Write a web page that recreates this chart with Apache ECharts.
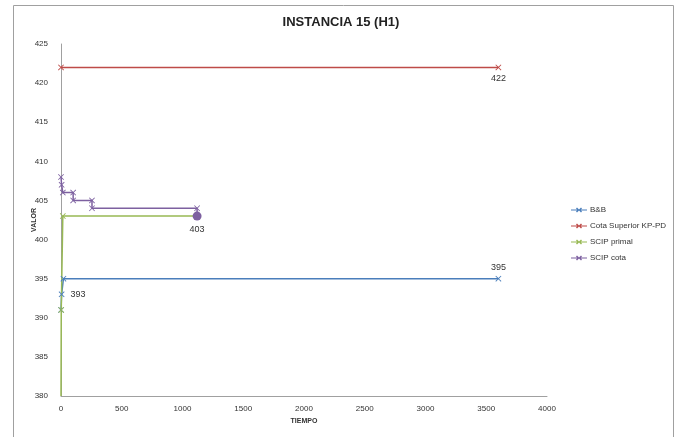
<!DOCTYPE html>
<html><head><meta charset="utf-8">
<script src="https://cdn.jsdelivr.net/npm/echarts@6/dist/echarts.min.js"></script>
<style>html,body{margin:0;padding:0;background:#fff}#c{width:680px;height:437px}</style>
</head><body><div id="c"></div>
<script>
const title = 'INSTANCIA 15 (H1)';
const seriesNames = ['B&B', 'Cota Superior KP-PD', 'SCIP primal', 'SCIP cota'];
const bbData = [[0,391],[5,393],[20,395],[3600,395]];
const cotaKPData = [[0,422],[3600,422]];
const scipPrimalData = [[0,380],[2,391],[15,403],[1120,403]];
const scipCotaData = [[0,408],[5,407],[15,406],[100,406],[100,405],[255,405],[255,404],[1120,404],[1120,403]];
const xTicks = [0,500,1000,1500,2000,2500,3000,3500,4000];
const yTicks = [380,385,390,395,400,405,410,415,420,425];

const colors = ['#4A7EBB','#BE4B48','#98B954','#7D60A0'];
const X = 'path://M1,0L5,4L9,0L10,1L6,5L10,9L9,10L5,6L1,10L0,9L4,5L0,1Z';
const LX = 'path://M0,4.4L6,4.4L5,3.4L6,2.4L8,4.4L10,2.4L11,3.4L10,4.4L16,4.4L16,5.6L10,5.6L11,6.6L10,7.6L8,5.6L6,7.6L5,6.6L6,5.6L0,5.6Z';
const lbl = {show:true, fontSize:9, color:'#333', fontFamily:'Liberation Sans'};

function mk(data, opts) {
  return data.map((p, i) => {
    const o = {value: p};
    if (opts[i]) Object.assign(o, opts[i]);
    return o;
  });
}

const chart = echarts.init(document.getElementById('c'), null, {renderer:'canvas'});
chart.setOption({
  animation:false,
  title:{text:title, left:336, textAlign:'center', top:11,
    textStyle:{fontSize:13, fontWeight:'bold', color:'#222', fontFamily:'Liberation Sans'}},
  graphic:[{type:'rect', shape:{x:13.5,y:5.5,width:660,height:450}, style:{fill:'none', stroke:'#a0a0a0', lineWidth:1}, silent:true}],
  grid:{left:61, right:133, top:44, bottom:41},
  legend:{orient:'vertical', left:566, top:201, itemGap:8, itemWidth:16, itemHeight:10,
    textStyle:{fontSize:8, color:'#333', fontFamily:'Liberation Sans', padding:[0,0,0,-2]},
    data:seriesNames.map(n=>({name:n, icon:LX}))},
  xAxis:{type:'value', min:0, max:4000, interval:500,
    name:'TIEMPO', nameLocation:'middle', nameGap:17,
    nameTextStyle:{fontSize:7, fontWeight:'bold', color:'#333', fontFamily:'Liberation Sans'},
    axisLine:{show:true, lineStyle:{color:'#a0a0a0'}}, axisTick:{show:false},
    axisLabel:{fontSize:8, color:'#333', margin:9, fontFamily:'Liberation Sans', customValues:xTicks, formatter:v=>String(v)},
    splitLine:{show:false}},
  yAxis:{type:'value', min:380, max:425, interval:5,
    name:'VALOR', nameLocation:'middle', nameGap:23, nameRotate:90, nameMoveOverlap:false,
    nameTextStyle:{fontSize:7, fontWeight:'bold', color:'#333', fontFamily:'Liberation Sans'},
    axisLine:{show:true, lineStyle:{color:'#a0a0a0'}}, axisTick:{show:false},
    axisLabel:{fontSize:8, color:'#333', margin:13, fontFamily:'Liberation Sans', customValues:yTicks, formatter:v=>String(v)},
    splitLine:{show:false}},
  series:[
    {name:seriesNames[0], type:'line', symbol:X, symbolSize:6, lineStyle:{width:1.5}, color:colors[0],
      data:mk(bbData,{1:{label:Object.assign({},lbl,{position:'right', distance:6})}, 3:{label:Object.assign({},lbl,{position:'top', distance:4})}})},
    {name:seriesNames[1], type:'line', symbol:X, symbolSize:6, lineStyle:{width:1.5}, color:colors[1],
      data:mk(cotaKPData,{1:{label:Object.assign({},lbl,{position:'bottom', distance:4})}})},
    {name:seriesNames[2], type:'line', symbol:X, symbolSize:6, lineStyle:{width:1.5}, color:colors[2],
      data:mk(scipPrimalData,{0:{symbol:'none'}, 3:{symbol:'none'}})},
    {name:seriesNames[3], type:'line', symbol:X, symbolSize:6, lineStyle:{width:1.5}, color:colors[3],
      data:mk(scipCotaData,{8:{symbol:'circle', symbolSize:9, label:Object.assign({},lbl,{position:'bottom', distance:4})}})}
  ]
});
</script></body></html>
